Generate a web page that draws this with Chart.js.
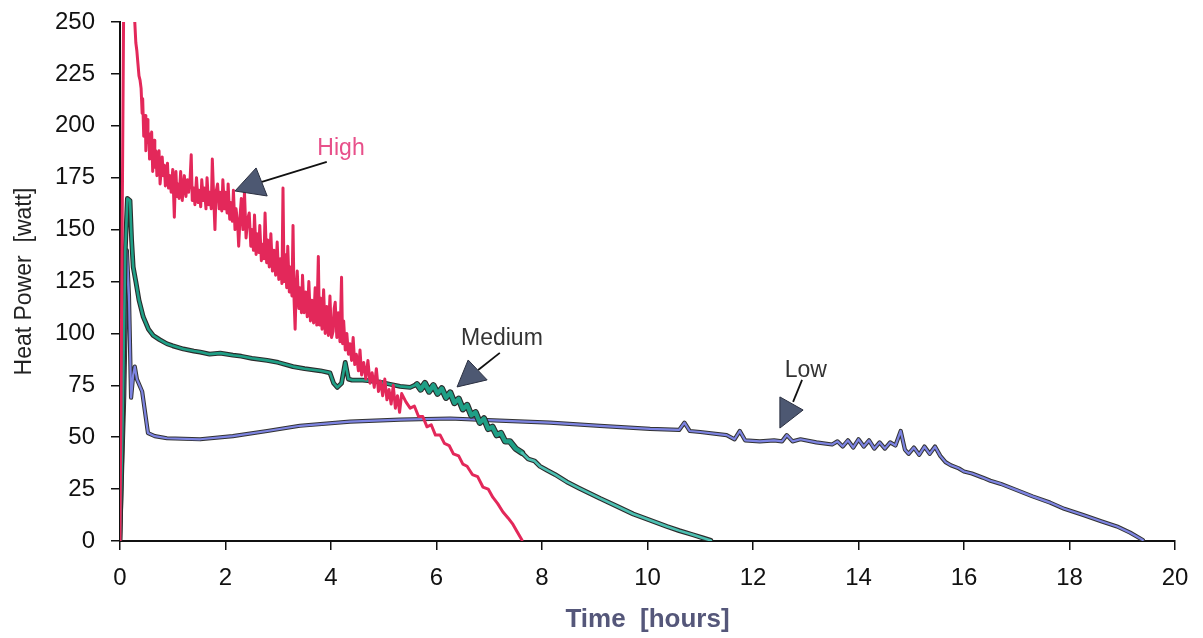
<!DOCTYPE html>
<html>
<head>
<meta charset="utf-8">
<script src="https://cdn.jsdelivr.net/npm/chart.js@4.4.0/dist/chart.umd.min.js"></script>
<style>
html,body{margin:0;padding:0;background:#fff}
</style>
</head>
<body>
<canvas id="myChart" width="1203" height="638"></canvas>
<script>
// axis ticks
const xTicks = [0, 2, 4, 6, 8, 10, 12, 14, 16, 18, 20]
const yTicks = [0, 25, 50, 75, 100, 125, 150, 175, 200, 225, 250]

// [time in hours, heat power in watt]
const high = [[0,0],[0.03,110],[0.07,260],[0.15,330],[0.25,262],[0.28,250],[0.30,240],[0.32,236],[0.34,230],[0.36,224],
  [0.38,222],[0.40,218],[0.42,206],[0.43,213],[0.45,195],[0.46,202],[0.48,205],[0.49,188],[0.50,194],[0.52,203],
  [0.53,192],[0.55,196],[0.56,184],[0.58,190],[0.60,197],[0.62,178],[0.63,186],[0.65,193],[0.66,180],[0.68,188],
  [0.70,176],[0.72,184],[0.74,188],[0.76,172],[0.78,178],[0.80,185],[0.82,176],[0.84,181],[0.86,171],[0.88,178],
  [0.90,182],[0.92,170],[0.95,176],[0.97,168],[1.00,179],[1.03,156],[1.05,174],[1.06,178],[1.08,166],[1.10,172],
  [1.12,165],[1.15,178],[1.18,164],[1.20,170],[1.22,176],[1.25,166],[1.28,174],[1.30,168],[1.33,175],[1.35,186],
  [1.37,164],[1.40,170],[1.42,162],[1.45,175],[1.48,163],[1.50,169],[1.53,161],[1.55,174],[1.58,164],[1.60,170],
  [1.63,160],[1.65,175],[1.68,162],[1.70,168],[1.73,160],[1.75,184],[1.78,163],[1.80,150],[1.82,168],[1.85,172],
  [1.88,160],[1.90,168],[1.93,159],[1.95,174],[1.98,160],[2.00,168],[2.03,158],[2.05,172],[2.08,155],[2.10,163],
  [2.13,154],[2.15,169],[2.18,150],[2.20,160],[2.23,153],[2.25,142],[2.28,158],[2.30,165],[2.33,150],[2.36,168],
  [2.39,146],[2.42,155],[2.45,158],[2.48,142],[2.50,150],[2.53,140],[2.55,157],[2.58,138],[2.60,148],[2.63,139],
  [2.65,152],[2.68,135],[2.70,143],[2.73,136],[2.75,158],[2.78,134],[2.80,145],[2.83,132],[2.86,148],[2.89,130],
  [2.92,140],[2.95,128],[2.98,144],[3.01,126],[3.04,136],[3.07,124],[3.09,170],[3.11,125],[3.13,138],[3.16,122],
  [3.18,142],[3.21,120],[3.23,132],[3.26,118],[3.28,152],[3.30,116],[3.32,102],[3.34,122],[3.36,130],[3.39,112],
  [3.41,122],[3.44,110],[3.46,128],[3.49,110],[3.52,120],[3.55,108],[3.58,125],[3.61,106],[3.64,116],[3.67,105],
  [3.70,122],[3.73,104],[3.76,137],[3.78,104],[3.80,117],[3.83,102],[3.86,121],[3.89,100],[3.92,113],[3.95,99],
  [3.98,118],[4.01,98],[4.04,101],[4.06,112],[4.08,115],[4.11,98],[4.14,110],[4.17,96],[4.20,127],[4.22,95],
  [4.24,106],[4.27,92],[4.30,100],[4.33,90],[4.36,95],[4.39,87],[4.42,98],[4.45,85],[4.48,90],[4.52,82],
  [4.55,92],[4.58,80],[4.62,86],[4.66,78],[4.70,87],[4.74,76],[4.78,81],[4.82,74],[4.86,83],[4.90,72],
  [4.94,77],[4.98,70],[5.02,78],[5.06,68],[5.10,73],[5.14,66],[5.18,75],[5.22,64],[5.26,70],[5.30,62],
  [5.34,71],[5.42,67],[5.50,64],[5.58,65],[5.66,60],[5.74,60],[5.82,55],[5.90,56],[5.98,51],[6.07,51],
  [6.15,47],[6.24,46],[6.32,42],[6.42,41],[6.50,37],[6.58,36],[6.68,32],[6.78,31],[6.88,26],[6.98,25],
  [7.07,21],[7.16,18],[7.26,14],[7.36,11],[7.45,8],[7.54,4],[7.62,0.5]]

const medium = [[0,0],[0.05,60],[0.10,140],[0.14,165],[0.19,164],[0.22,145],[0.25,132],[0.30,125],[0.36,116],[0.44,108],
  [0.54,102],[0.63,99],[0.75,97],[0.89,95],[1.0,94],[1.2,92.5],[1.4,91.5],[1.52,91],[1.7,90],[1.9,90.5],
  [2.14,89.5],[2.3,89],[2.5,88],[2.79,87],[3.0,86],[3.28,84],[3.5,83],[3.8,82],[3.98,81],[4.05,76],
  [4.12,74],[4.20,76],[4.27,86],[4.33,78],[4.40,77.5],[4.6,77.5],[4.8,77],[4.93,76.5],[5.12,75.5],[5.31,74.5],
  [5.5,74],[5.63,75.5],[5.70,73],[5.78,76],[5.86,72],[5.94,75],[6.02,71],[6.10,73.5],[6.18,69],[6.26,71.5],
  [6.34,66.5],[6.42,68.5],[6.50,63.5],[6.58,65.5],[6.66,60.5],[6.74,62],[6.82,57],[6.90,59],[6.98,54],[7.06,55],
  [7.14,51],[7.22,52],[7.30,48],[7.39,48],[7.5,44.5],[7.62,42.5],[7.74,39.5],[7.86,38.5],[7.96,36],[8.1,34],
  [8.25,32],[8.47,28.5],[8.7,25.5],[9.1,20.5],[9.4,17],[9.73,13],[10.0,10.5],[10.37,7],[10.6,5],[10.86,3],
  [11.05,1.5],[11.2,0.3]]

const low = [[0,0],[0.08,70],[0.13,140],[0.17,118],[0.21,69],[0.25,80],[0.28,84],[0.32,78],[0.42,72],[0.53,52],
  [0.66,50.5],[0.89,49.5],[1.52,49],[2.14,50.5],[2.79,53],[3.41,55.5],[4.36,57.5],[5.31,58.5],[6.26,59],[7.2,58],
  [8.15,57],[9.1,55.5],[10.05,54],[10.6,53.5],[10.7,57],[10.8,53],[11.0,52.5],[11.5,51],[11.65,49],[11.75,53],
  [11.85,48.5],[12.13,48],[12.4,48.5],[12.55,48],[12.64,51],[12.75,48],[12.9,49],[13.2,47.5],[13.5,46.5],[13.6,48],
  [13.7,45.5],[13.8,48.5],[13.9,45],[14.0,49],[14.1,45.5],[14.2,48.5],[14.3,44.5],[14.4,47.5],[14.5,44.5],[14.6,47.5],
  [14.7,46],[14.8,53],[14.88,44],[14.95,42],[15.05,45],[15.15,41.5],[15.25,45.5],[15.35,42],[15.45,45.5],[15.55,41],
  [15.65,38],[15.75,36.5],[15.9,35],[16.0,33.5],[16.15,32.5],[16.36,30.5],[16.5,29],[16.7,27.5],[17.0,24.5],[17.3,21.5],
  [17.63,18.5],[17.9,15.5],[18.26,12.5],[18.6,9.5],[18.9,7],[19.15,4],[19.39,0.5]]

// labels and arrows, in data units
const notes = [
  {text: 'High', t: 4.19, p: 188.8, color: '#e8508a'},
  {text: 'Medium', t: 7.24, p: 97.3, color: '#333'},
  {text: 'Low', t: 13.0, p: 81.9, color: '#333'}
]
const arrows = [
  {from: [3.92, 182.6], to: [2.69, 173], head: [[2.18, 168.6], [2.58, 179.7], [2.79, 166.2]]},
  {from: [7.2, 90.6], to: [6.79, 82.4], head: [[6.39, 74.2], [6.6, 87.2], [6.96, 77.6]]},
  {from: [12.93, 77.6], to: [12.76, 67], head: [[12.51, 54.4], [12.51, 69.4], [12.95, 63.1]]}
]

const FONT = '"Liberation Sans", Arial, sans-serif'
const toXY = arr => arr.map(d => ({x: d[0], y: d[1]}))

const notesPlugin = {
  id: 'notes',
  afterDatasetsDraw(chart) {
    const {ctx, scales: {x, y}} = chart
    const px = (t, p) => [x.getPixelForValue(t), y.getPixelForValue(p)]
    ctx.save()
    arrows.forEach(a => {
      const f = px(...a.from), e = px(...a.to)
      ctx.strokeStyle = '#111'
      ctx.lineWidth = 1.8
      ctx.beginPath()
      ctx.moveTo(f[0], f[1])
      ctx.lineTo(e[0], e[1])
      ctx.stroke()
      ctx.beginPath()
      a.head.forEach((h, i) => {
        const q = px(...h)
        if (i === 0) ctx.moveTo(q[0], q[1]); else ctx.lineTo(q[0], q[1])
      })
      ctx.closePath()
      ctx.fillStyle = '#4d5872'
      ctx.fill()
      ctx.lineWidth = 1
      ctx.strokeStyle = '#2a2f40'
      ctx.stroke()
    })
    ctx.font = '23px ' + FONT
    ctx.textAlign = 'center'
    ctx.textBaseline = 'middle'
    notes.forEach(n => {
      const q = px(n.t, n.p)
      ctx.fillStyle = n.color
      ctx.fillText(n.text, q[0], q[1])
    })
    ctx.restore()
  }
}

const lineDs = (label, arr, color, width, segment) => ({
  label: label,
  data: toXY(arr),
  borderColor: color,
  borderWidth: width,
  pointRadius: 0,
  tension: 0,
  borderJoinStyle: 'round',
  borderCapStyle: 'round',
  segment: segment || {}
})

// the noisy stretch of Medium is drawn a bit heavier
const medBusy = c => c.p0.parsed.x > 5.6 && c.p0.parsed.x < 7.6

const ctx = document.getElementById('myChart')
new Chart(ctx, {
  type: 'line',
  data: {
    datasets: [
      lineDs('High', high, '#e3285a', 3),
      lineDs('Medium', medium, '#1f9f86', 2.6, {
        borderColor: c => c.p0.parsed.x > 7.5 ? '#4cc0b2' : undefined,
        borderWidth: c => medBusy(c) ? 4.2 : undefined
      }),
      lineDs('Medium outline', medium, '#2b2b2b', 4.8, {
        borderWidth: c => medBusy(c) ? 6.4 : undefined
      }),
      lineDs('Low', low, '#7d84e2', 2.2),
      lineDs('Low outline', low, '#333333', 4.2)
    ]
  },
  options: {
    responsive: false,
    animation: false,
    layout: {padding: {top: 22, right: 28, left: 0, bottom: 0}},
    plugins: {legend: {display: false}, tooltip: {enabled: false}},
    scales: {
      x: {
        type: 'linear',
        min: 0,
        max: 20,
        afterBuildTicks: s => { s.ticks = xTicks.map(v => ({value: v})) },
        afterFit: s => { s.height = 97; s.paddingLeft = 0; s.paddingRight = 0 },
        grid: {drawOnChartArea: false, drawTicks: true, tickLength: 9, color: '#111', lineWidth: 1.5},
        border: {display: true, color: '#111', width: 2},
        ticks: {padding: 14, color: '#111', font: {family: FONT, size: 24}},
        title: {display: true, text: 'Time  [hours]', color: '#55577a',
          font: {family: FONT, size: 26, weight: 'bold'}, padding: {top: 0, bottom: 3}}
      },
      y: {
        type: 'linear',
        min: 0,
        max: 250,
        afterBuildTicks: s => { s.ticks = yTicks.map(v => ({value: v})) },
        afterFit: s => { s.width = 120; s.paddingTop = 0; s.paddingBottom = 0 },
        grid: {drawOnChartArea: false, drawTicks: true, tickLength: 9, color: '#111', lineWidth: 1.5},
        border: {display: true, color: '#111', width: 2},
        ticks: {padding: 16, color: '#111', font: {family: FONT, size: 24}},
        title: {display: true, text: 'Heat Power  [watt]', color: '#222',
          font: {family: FONT, size: 23}, padding: {top: 11}}
      }
    }
  },
  plugins: [notesPlugin]
})
</script>
</body>
</html>
